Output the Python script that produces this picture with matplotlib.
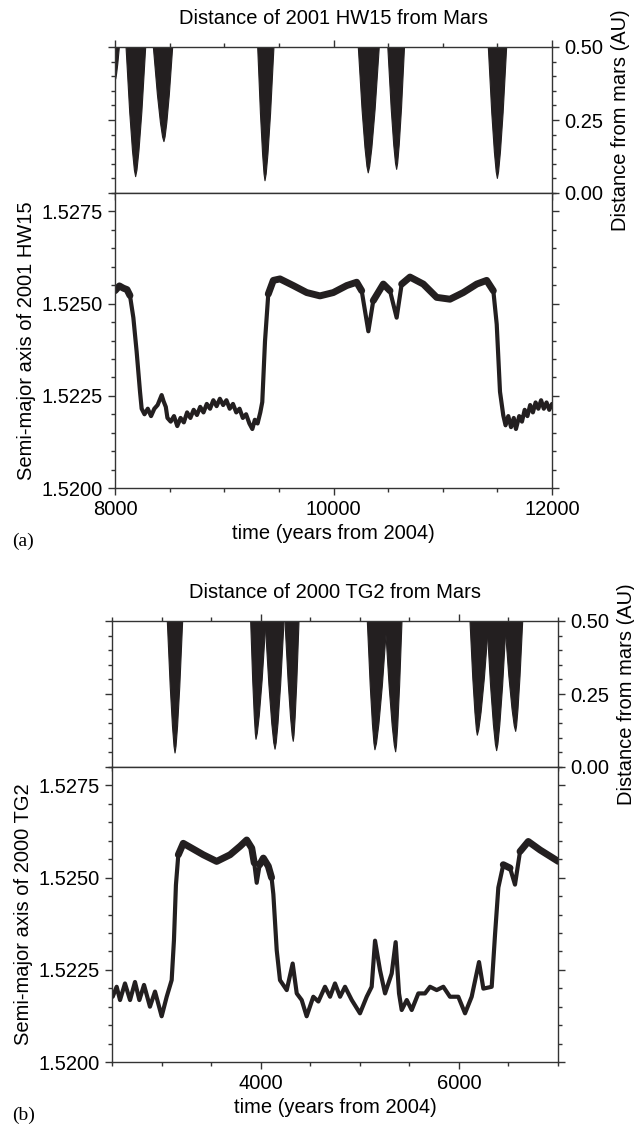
import matplotlib.pyplot as plt
from matplotlib.ticker import MultipleLocator, FormatStrFormatter
import numpy as np

# ---- panel (a): 2001 HW15 ----
# close approaches: top-left time, tip time, min distance (AU), top-right time
hw15_left = [7990, 8101, 8351, 9306, 10227, 10497, 11417]
hw15_tip_t = [8003, 8189, 8448, 9373, 10318, 10578, 11500]
hw15_tip_d = [0.387, 0.056, 0.176, 0.042, 0.069, 0.081, 0.050]
hw15_right = [8040, 8281, 8528, 9455, 10419, 10650, 11585]

hw15_t = [8000, 8040, 8076, 8110, 8137, 8168, 8198, 8229, 8244, 8270, 8300, 8330,
          8360, 8390, 8427, 8445, 8465, 8480, 8510, 8540, 8570, 8600, 8630, 8660,
          8690, 8720, 8750, 8780, 8810, 8840, 8870, 8900, 8930, 8960, 8990, 9020,
          9050, 9080, 9110, 9140, 9170, 9200, 9230, 9257, 9280, 9305, 9330, 9348,
          9373, 9403, 9449, 9510, 9632, 9755, 9876, 9998, 10121, 10212, 10258,
          10319, 10364, 10456, 10517, 10578, 10624, 10700, 10822, 10944, 11066,
          11188, 11311, 11402, 11463, 11494, 11524, 11554, 11575, 11600, 11625,
          11650, 11670, 11700, 11725, 11750, 11775, 11800, 11825, 11850, 11875,
          11900, 11925, 11950, 11975, 12000]
hw15_a = [1.52535, 1.52548, 1.52542, 1.52538, 1.52522, 1.52462, 1.52370, 1.52261,
          1.52215, 1.52200, 1.52215, 1.52195, 1.52215, 1.52225, 1.52252, 1.52235,
          1.52220, 1.52190, 1.52180, 1.52195, 1.52168, 1.52190, 1.52178, 1.52205,
          1.52190, 1.52212, 1.52198, 1.52220, 1.52205, 1.52228, 1.52215, 1.52238,
          1.52222, 1.52242, 1.52225, 1.52238, 1.52215, 1.52228, 1.52205, 1.52215,
          1.52190, 1.52200, 1.52175, 1.52160, 1.52185, 1.52175, 1.52205, 1.52233,
          1.52398, 1.52526, 1.52563, 1.52567, 1.52549, 1.52530, 1.52521, 1.52530,
          1.52549, 1.52558, 1.52535, 1.52425, 1.52508, 1.52553, 1.52535, 1.52462,
          1.52553, 1.52572, 1.52553, 1.52517, 1.52512, 1.52530, 1.52553, 1.52563,
          1.52535, 1.52444, 1.52261, 1.52197, 1.52170, 1.52195, 1.52165, 1.52190,
          1.52160, 1.52195, 1.52180, 1.52212, 1.52195, 1.52225, 1.52205, 1.52232,
          1.52215, 1.52238, 1.52215, 1.52232, 1.52212, 1.52228]

# ---- panel (b): 2000 TG2 ----
tg2_left = [3058, 3899, 4045, 4245, 5076, 5256, 6112, 6282, 6462]
tg2_tip_t = [3136, 3953, 4145, 4329, 5153, 5362, 6186, 6381, 6573]
tg2_tip_d = [0.048, 0.095, 0.061, 0.088, 0.059, 0.052, 0.109, 0.056, 0.122]
tg2_right = [3213, 4053, 4236, 4387, 5274, 5426, 6301, 6478, 6644]

tg2_t = [2507, 2547, 2581, 2631, 2682, 2732, 2776, 2823, 2883, 2934, 3001, 3052,
         3102, 3125, 3145, 3169, 3219, 3304, 3421, 3556, 3691, 3792, 3859, 3910,
         3935, 3960, 3990, 4027, 4077, 4110, 4128, 4162, 4195, 4263, 4323, 4364,
         4414, 4464, 4531, 4582, 4649, 4700, 4750, 4801, 4851, 4919, 5002, 5070,
         5120, 5154, 5204, 5255, 5322, 5362, 5396, 5423, 5474, 5524, 5591, 5658,
         5709, 5776, 5843, 5910, 5994, 6062, 6129, 6203, 6247, 6331, 6365, 6398,
         6448, 6516, 6566, 6617, 6700, 6819, 6920, 7003]
tg2_a = [1.52177, 1.52204, 1.52168, 1.52213, 1.52168, 1.52217, 1.52168, 1.52209,
         1.52150, 1.52191, 1.52124, 1.52177, 1.52222, 1.52330, 1.52480, 1.52562,
         1.52593, 1.52580, 1.52562, 1.52544, 1.52562, 1.52585, 1.52602, 1.52580,
         1.52540, 1.52486, 1.52535, 1.52553, 1.52531, 1.52500, 1.52455, 1.52303,
         1.52222, 1.52195, 1.52267, 1.52186, 1.52168, 1.52124, 1.52177, 1.52164,
         1.52204, 1.52177, 1.52213, 1.52177, 1.52204, 1.52168, 1.52132, 1.52177,
         1.52204, 1.52329, 1.52249, 1.52186, 1.52240, 1.52325, 1.52186, 1.52141,
         1.52168, 1.52141, 1.52186, 1.52186, 1.52204, 1.52195, 1.52204, 1.52177,
         1.52177, 1.52132, 1.52177, 1.52271, 1.52199, 1.52204, 1.52347, 1.52473,
         1.52535, 1.52526, 1.52481, 1.52571, 1.52598, 1.52575, 1.52558, 1.52544]

# edge profile of a close-approach spike: height fraction -> width fraction
dip_h = [1.25, 1.0, 0.5, 0.2, 0.05, 0.0]
dip_w = [1.22, 1.0, 0.62, 0.33, 0.13, 0.0]

ink = '#231f20'
plt.rcParams['font.family'] = ['Liberation Sans', 'DejaVu Sans']
plt.rcParams['font.size'] = 14.5
plt.rcParams['axes.edgecolor'] = '#333333'
plt.rcParams['axes.linewidth'] = 1.0

W, H = 634, 1127
fig = plt.figure(figsize=(W / 100, H / 100), dpi=100)


def rect(x0, x1, ytop, ybot):
    return [x0 / W, 1 - ybot / H, (x1 - x0) / W, (ybot - ytop) / H]


def draw_dips(ax, left, tip_t, tip_d, right):
    for l, t0, d, r in zip(left, tip_t, tip_d, right):
        ys = [d + f * (0.5 - d) for f in dip_h]
        xl = [t0 - (t0 - l) * w for w in dip_w]
        xr = [t0 + (r - t0) * w for w in dip_w]
        ax.fill(xl + xr[::-1], ys + ys[::-1], color=ink, lw=0.8,
                joinstyle='round')


def style_ticks(ax):
    ax.tick_params(which='both', direction='out', color='#333333',
                   width=1.0, labelsize=14.5)
    ax.tick_params(which='major', length=5)
    ax.tick_params(which='minor', length=3)


def panel(ytop, x0, x1, xlim, t, a, left, tip_t, tip_d, right, name, tag):
    yb = ytop + 146
    yend = ytop + 146 + 295
    ax_d = fig.add_axes(rect(x0, x1, ytop, yb))
    ax_a = fig.add_axes(rect(x0, x1, yb, yend))

    draw_dips(ax_d, left, tip_t, tip_d, right)
    ax_d.set_xlim(*xlim)
    ax_d.set_ylim(0, 0.5)
    ax_d.yaxis.set_major_locator(MultipleLocator(0.25))
    ax_d.yaxis.set_minor_locator(MultipleLocator(0.05))
    ax_d.yaxis.set_major_formatter(FormatStrFormatter('%.2f'))
    ax_d.xaxis.set_major_locator(MultipleLocator(2000))
    ax_d.xaxis.set_minor_locator(MultipleLocator(500))
    style_ticks(ax_d)
    ax_d.tick_params(which='both', left=True, right=True, top=True,
                     bottom=True, labelleft=False, labelright=True,
                     labelbottom=False)
    ax_d.yaxis.set_label_position('right')
    ax_d.set_ylabel('Distance from mars (AU)', labelpad=6)

    t = np.array(t)
    a = np.array(a)
    ax_a.plot(t, a, color=ink, lw=3.0, solid_joinstyle='round',
              solid_capstyle='round')
    # the high plateau is a wider band of fast oscillation
    high = np.where(a > 1.5249, a, np.nan)
    ax_a.plot(t, high, color=ink, lw=5.0, solid_joinstyle='round',
              solid_capstyle='round')
    ax_a.set_xlim(*xlim)
    ax_a.set_ylim(1.52, 1.528)
    ax_a.yaxis.set_major_locator(MultipleLocator(0.0025))
    ax_a.yaxis.set_minor_locator(MultipleLocator(0.0005))
    ax_a.yaxis.set_major_formatter(FormatStrFormatter('%.4f'))
    ax_a.xaxis.set_major_locator(MultipleLocator(2000))
    ax_a.xaxis.set_minor_locator(MultipleLocator(500))
    style_ticks(ax_a)
    ax_a.tick_params(which='both', left=True, right=True, top=False,
                     bottom=True, labelright=False)
    ax_a.set_ylabel('Semi-major axis of ' + name, labelpad=4)
    ax_a.set_xlabel('time (years from 2004)', labelpad=4)

    fig.text((x0 + x1) / 2 / W, 1 - (ytop - 29) / H,
             'Distance of ' + name + ' from Mars', ha='center', va='center')
    fig.text(12 / W, 1 - (yend + 53) / H, tag, ha='left', va='center',
             family='Liberation Serif', fontsize=14)


panel(47, 115, 552, (8000, 12000), hw15_t, hw15_a,
      hw15_left, hw15_tip_t, hw15_tip_d, hw15_right, '2001 HW15', '(a)')
panel(621, 112, 558, (2500, 7000), tg2_t, tg2_a,
      tg2_left, tg2_tip_t, tg2_tip_d, tg2_right, '2000 TG2', '(b)')

fig.savefig('out.png', dpi=100)
